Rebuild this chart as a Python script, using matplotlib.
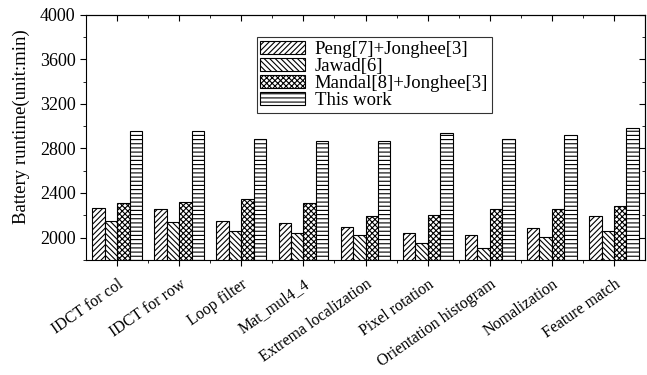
import numpy as np
import matplotlib
matplotlib.use('Agg')
import matplotlib.pyplot as plt
from matplotlib.ticker import MultipleLocator

plt.rcParams['font.family'] = ['Liberation Serif', 'DejaVu Serif']
plt.rcParams['hatch.linewidth'] = 0.8

categories = ['IDCT for col', 'IDCT for row', 'Loop filter', 'Mat_mul4_4',
              'Extrema localization', 'Pixel rotation', 'Orientation histogram',
              'Nomalization', 'Feature match']
series_names = ['Peng[7]+Jonghee[3]', 'Jawad[6]', 'Mandal[8]+Jonghee[3]', 'This work']
peng = [2265, 2256, 2152, 2131, 2095, 2045, 2027, 2087, 2196]
jawad = [2152, 2140, 2062, 2038, 2024, 1952, 1911, 2006, 2062]
mandal = [2310, 2319, 2348, 2310, 2194, 2205, 2253, 2259, 2283]
this_work = [2952, 2952, 2881, 2869, 2865, 2935, 2881, 2917, 2982]

hatches = ['//////', '\\\\\\\\\\\\', 'xxxxxx', '----']

fig = plt.figure(figsize=(6.47, 3.75), dpi=100)
ax = fig.add_axes([0.133, 0.307, 0.864, 0.654])

x = np.arange(len(categories))
w = 0.2
for i, (vals, name) in enumerate(zip([peng, jawad, mandal, this_work], series_names)):
    ax.bar(x + (i - 1.5) * w, vals, width=w, color='white',
           edgecolor='black', hatch=hatches[i], linewidth=0.8, label=name)

ax.set_ylim(1800, 4000)
ax.set_xlim(-0.5, len(categories) - 0.5)
yticks = [2000, 2400, 2800, 3200, 3600, 4000]
ax.set_yticks(yticks)
ax.yaxis.set_minor_locator(MultipleLocator(200))
ax.set_xticks(x)
ax.set_xticks(x[:-1] + 0.5, minor=True)
ax.set_xticklabels(categories, rotation=35, ha='right', rotation_mode='anchor', fontsize=11.5)
ax.tick_params(axis='y', labelsize=13)
ax.tick_params(axis='x', which='major', pad=8)
ax.tick_params(which='major', length=4)
ax.tick_params(which='minor', length=2.5)
ax.set_ylabel('Battery runtime(unit:min)', fontsize=13.5)
ax.yaxis.set_label_coords(-0.1, 0.545)

# mirrored ticks pointing inward on top and right
top = ax.secondary_xaxis('top')
top.set_xticks(x)
top.set_xticks(x[:-1] + 0.5, minor=True)
top.tick_params(which='both', direction='in', labeltop=False)
top.tick_params(which='major', length=4)
top.tick_params(which='minor', length=2.5)
right = ax.secondary_yaxis('right')
right.set_yticks(yticks)
right.yaxis.set_minor_locator(MultipleLocator(200))
right.tick_params(which='both', direction='in', labelright=False)
right.tick_params(which='major', length=4)
right.tick_params(which='minor', length=2.5)

leg = ax.legend(loc='upper left', bbox_to_anchor=(0.305, 0.909), fontsize=13.5,
                frameon=True, fancybox=False, edgecolor='black', borderaxespad=0,
                handlelength=2.4, handleheight=0.7, labelspacing=0.0,
                borderpad=0.2, handletextpad=0.5)
leg.get_frame().set_linewidth(0.8)

plt.savefig('out.png', dpi=100)
